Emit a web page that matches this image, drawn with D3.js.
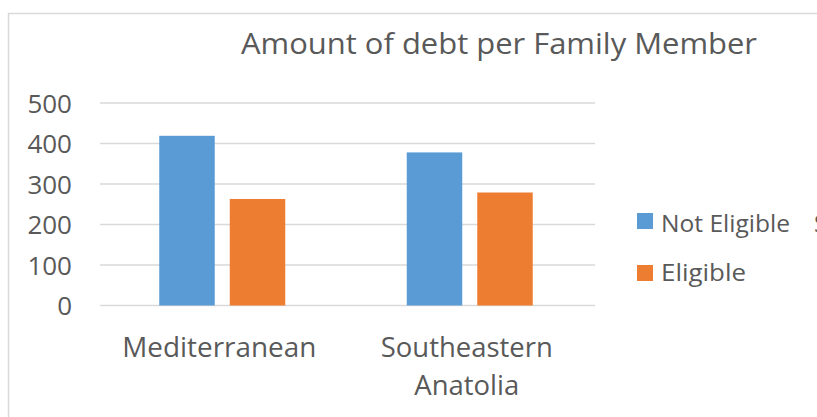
<!DOCTYPE html>
<html><head><meta charset="utf-8">
<script src="https://cdn.jsdelivr.net/npm/d3@7"></script>
<style>html,body{margin:0;padding:0;background:#fff;overflow:hidden}svg{display:block}</style>
</head><body>
<svg id="c" width="817" height="417"></svg>
<script>
const categories = ["Mediterranean", "Southeastern Anatolia"];
const seriesNames = ["Not Eligible", "Syrians", "Eligible"];
const notEligible = [419, 378];
const eligible = [263, 279];
const yTicks = [0, 100, 200, 300, 400, 500];
const title = "Amount of debt per Family Member";
const caption = "Figure 8: Amount of debt per Family Member (Not Eligible vs Eligible Syrians)";
const colors = ["#5b9bd5", "#ed7d31"];

const svg = d3.select("#c");
const font = "'Open Sans', 'Noto Sans', sans-serif";
const txt = "#595959";

// caption cut off at top
svg.append("text").attr("x", 10).attr("y", -3.5).attr("font-family", "'Liberation Sans', Arial, sans-serif")
  .attr("font-weight", "bold").attr("font-size", 17).attr("fill", "#000").text(caption)
  .attr("textLength", 800).attr("lengthAdjust", "spacingAndGlyphs");

// chart border
svg.append("rect").attr("x", 8.5).attr("y", 13.5).attr("width", 830).attr("height", 420)
  .attr("fill", "#fff").attr("stroke", "#d9d9d9").attr("stroke-width", 1.5);

const x0 = d3.scaleBand().domain(categories).range([100, 595]);
const y = d3.scaleLinear().domain([0, 500]).range([305.5, 103]);
const barW = 55.5, gap = 15;

// gridlines
svg.append("g").selectAll("line").data(yTicks).join("line")
  .attr("x1", 100).attr("x2", 595).attr("y1", d => y(d)).attr("y2", d => y(d))
  .attr("stroke", "#d9d9d9").attr("stroke-width", 1.5);

// y axis labels
svg.append("g").selectAll("text").data(yTicks).join("text")
  .attr("x", 72).attr("y", d => y(d) + 9.5).attr("text-anchor", "end")
  .attr("font-family", font).attr("font-size", 26).attr("fill", txt).text(d => d);

// bars
const data = categories.map((c, i) => ({c, v: [notEligible[i], eligible[i]]}));
const g = svg.append("g").selectAll("g").data(data).join("g");
g.selectAll("rect").data(d => d.v.map((v, j) => ({c: d.c, v, j}))).join("rect")
  .attr("x", d => x0(d.c) + x0.bandwidth() / 2 - 1.5 - gap / 2 - barW + d.j * (barW + gap))
  .attr("y", d => y(d.v)).attr("width", barW).attr("height", d => y(0) - y(d.v))
  .attr("fill", d => colors[d.j]);

// category labels
const catLines = [["Mediterranean"], ["Southeastern", "Anatolia"]];
const catWidths = [[194], [172, 105]];
categories.forEach((c, i) => {
  catLines[i].forEach((line, k) => {
    svg.append("text").attr("x", x0(c) + x0.bandwidth() / 2 - 4.5).attr("y", 357 + k * 38)
      .attr("text-anchor", "middle").attr("font-family", font).attr("font-size", 27)
      .attr("fill", txt).attr("textLength", catWidths[i][k]).attr("lengthAdjust", "spacingAndGlyphs")
      .text(line);
  });
});

// title
svg.append("text").attr("x", 499).attr("y", 53.5).attr("text-anchor", "middle")
  .attr("font-family", font).attr("font-size", 29).attr("fill", txt)
  .attr("textLength", 516).attr("lengthAdjust", "spacingAndGlyphs").text(title);

// legend
[0, 1].forEach(i => {
  const ly = 213 + i * 52;
  svg.append("rect").attr("x", 637).attr("y", ly).attr("width", 16).attr("height", 16).attr("fill", colors[i]);
});
const l1 = svg.append("text").attr("x", 661).attr("y", 232).attr("font-family", font).attr("font-size", 24).attr("fill", txt);
l1.append("tspan").attr("textLength", 129).attr("lengthAdjust", "spacingAndGlyphs").text(seriesNames[0]);
l1.append("tspan").attr("x", 814).text(seriesNames[1]);
svg.append("text").attr("x", 661).attr("y", 281).attr("font-family", font).attr("font-size", 24)
  .attr("fill", txt).attr("textLength", 85).attr("lengthAdjust", "spacingAndGlyphs").text(seriesNames[2]);
</script>
</body></html>
